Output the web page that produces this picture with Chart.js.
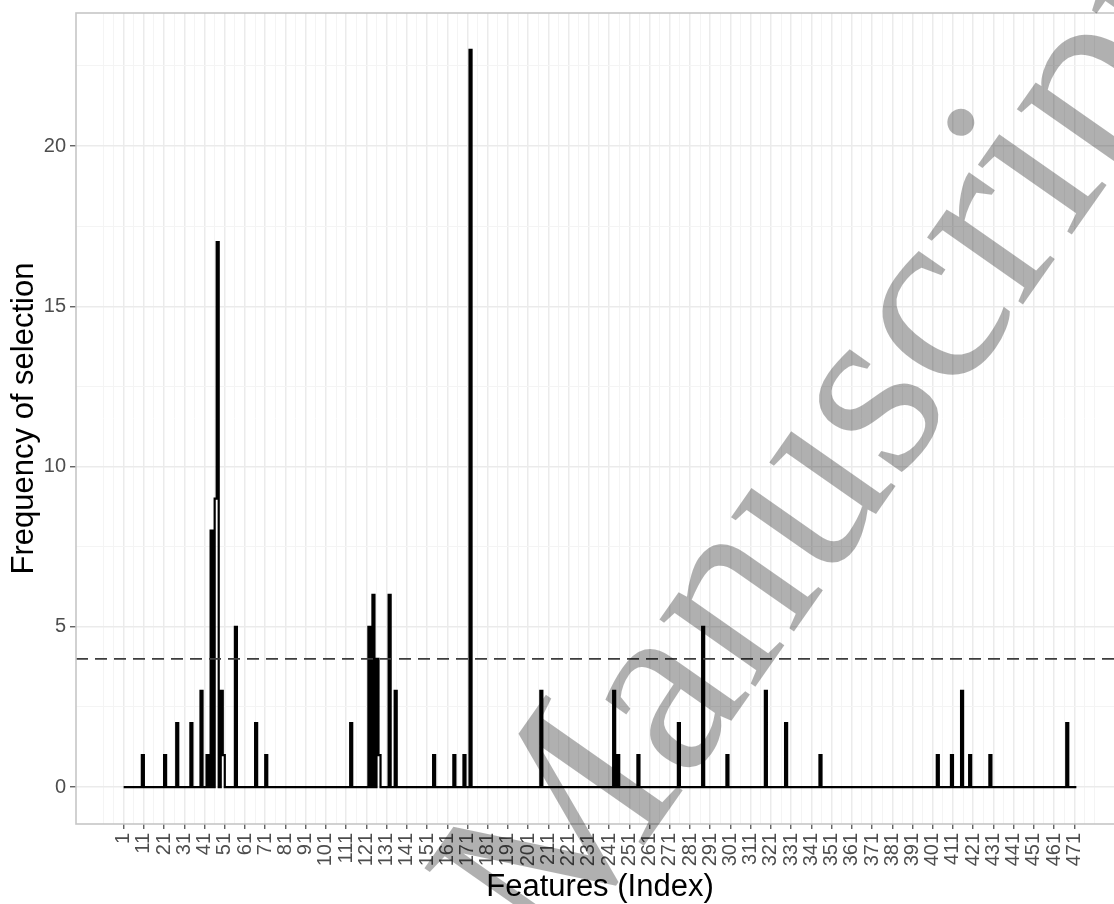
<!DOCTYPE html>
<html>
<head>
<meta charset="utf-8">
<script src="https://cdn.jsdelivr.net/npm/chart.js@4.4.1/dist/chart.umd.min.js"></script>
<style>
  html, body { margin: 0; padding: 0; background: #fff; overflow: hidden; }
  #wrap { position: absolute; left: 0; top: 0; width: 1126px; height: 904px; }
</style>
</head>
<body>
<div id="wrap"><canvas id="c" width="1126" height="904"></canvas></div>
<script>
// Number of candidate features (indexed from 1)
const featureCount = 472;

// Features that were selected at least once, and how often
const spikeIndex = [10, 21, 27, 34, 39, 42, 44, 46, 47, 49, 50, 56, 66, 71,
                    113, 122, 124, 126, 127, 132, 135, 154, 164, 169, 172,
                    207, 243, 245, 255, 275, 287, 299, 318, 328, 345,
                    403, 410, 415, 419, 429, 467];
const spikeFreq  = [1, 1, 2, 2, 3, 1, 8, 9, 17, 3, 1, 5, 2, 1,
                    2, 5, 6, 4, 1, 6, 3, 1, 1, 1, 23,
                    3, 3, 1, 1, 2, 5, 1, 3, 2, 1,
                    1, 1, 3, 1, 1, 2];

// Selection cut-off drawn as a dashed reference line
const threshold = 4;

// Axis breaks and limits
const xBreaks = [1, 11, 21, 31, 41, 51, 61, 71, 81, 91, 101, 111, 121, 131, 141, 151,
                 161, 171, 181, 191, 201, 211, 221, 231, 241, 251, 261, 271, 281, 291,
                 301, 311, 321, 331, 341, 351, 361, 371, 381, 391, 401, 411, 421, 431,
                 441, 451, 461, 471];
const yBreaks = [0, 5, 10, 15, 20];
const xLimits = [-22.55, 495.55];
const yLimits = [-1.15, 24.15];

// One point per feature; features never selected sit at zero
const freqByFeature = new Map(spikeIndex.map((f, i) => [f, spikeFreq[i]]));
const series = [];
for (let f = 1; f <= featureCount; f++) {
  series.push({ x: f, y: freqByFeature.get(f) || 0 });
}

// Grid positions: major breaks plus the midpoints between them
function gridPositions(breaks, lo, hi) {
  const step = breaks[1] - breaks[0];
  const ext = [breaks[0] - step, ...breaks, breaks[breaks.length - 1] + step];
  const out = [];
  for (let i = 0; i < ext.length - 1; i++) out.push(ext[i], (ext[i] + ext[i + 1]) / 2);
  out.push(ext[ext.length - 1]);
  return out.filter(v => v >= lo && v <= hi);
}
const xGrid = gridPositions(xBreaks, xLimits[0], xLimits[1]);
const yGrid = gridPositions(yBreaks, yLimits[0], yLimits[1]);

const SANS = '"Liberation Sans", Arial, Helvetica, sans-serif';
const majorGrid = '#ebebeb', minorGrid = '#f4f4f4';
const tickMark = '#555555', tickText = '#4d4d4d';

function gridStyle(breaks, tickLen) {
  return {
    color: c => breaks.includes(c.tick.value) ? majorGrid : minorGrid,
    lineWidth: c => breaks.includes(c.tick.value) ? 1.5 : 1,
    drawTicks: true,
    tickLength: tickLen,
    tickWidth: 1.3,
    tickColor: c => breaks.includes(c.tick.value) ? tickMark : 'rgba(0,0,0,0)'
  };
}

// Light frame around the plotting panel
const panelBorder = {
  id: 'panelBorder',
  afterDatasetsDraw(chart) {
    const { ctx, chartArea: a } = chart;
    ctx.save();
    ctx.strokeStyle = '#c6c6c6';
    ctx.lineWidth = 1.6;
    ctx.strokeRect(a.left, a.top, a.right - a.left, a.bottom - a.top);
    ctx.restore();
  }
};

// Diagonal stamp across the figure
const stamp = {
  id: 'stamp',
  afterDraw(chart) {
    const ctx = chart.ctx;
    ctx.save();
    ctx.translate(557, 970);
    ctx.rotate(-55 * Math.PI / 180);
    ctx.font = '255px "Liberation Serif", "Times New Roman", serif';
    ctx.fillStyle = 'rgba(0,0,0,0.31)';
    ctx.textBaseline = 'alphabetic';
    ctx.fillText('Manuscript', 0, 0);
    ctx.restore();
  }
};

new Chart(document.getElementById('c'), {
  type: 'scatter',
  data: {
    datasets: [
      {
        label: 'threshold',
        data: [{ x: xLimits[0], y: threshold }, { x: xLimits[1], y: threshold }],
        showLine: true,
        borderColor: '#3d3d3d',
        borderWidth: 1.8,
        borderDash: [12, 7],
        pointRadius: 0,
        order: 0
      },
      {
        label: 'Frequency of selection',
        data: series,
        showLine: true,
        stepped: 'before',
        borderColor: '#000000',
        borderWidth: 2.2,
        borderJoinStyle: 'miter',
        pointRadius: 0,
        order: 1
      }
    ]
  },
  options: {
    responsive: false,
    animation: false,
    devicePixelRatio: 1,
    layout: { padding: { top: 13, right: 2, left: 0, bottom: 0 } },
    plugins: { legend: { display: false }, tooltip: { enabled: false } },
    scales: {
      x: {
        type: 'linear',
        min: xLimits[0],
        max: xLimits[1],
        afterBuildTicks: s => { s.ticks = xGrid.map(v => ({ value: v })); },
        afterFit: s => {
          s.height = 80;
          s.paddingLeft = 0; s.paddingRight = 0; s.paddingTop = 0; s.paddingBottom = 0;
        },
        ticks: {
          autoSkip: false,
          minRotation: 90,
          maxRotation: 90,
          padding: 4,
          color: tickText,
          font: { family: SANS, size: 20 },
          callback: v => xBreaks.includes(v) ? String(v) : ''
        },
        grid: gridStyle(xBreaks, 5),
        border: { display: false },
        title: {
          display: true,
          text: 'Features (Index)',
          color: '#000',
          font: { family: SANS, size: 31, lineHeight: 1 },
          padding: { top: 0, bottom: 1 }
        }
      },
      y: {
        type: 'linear',
        min: yLimits[0],
        max: yLimits[1],
        afterBuildTicks: s => { s.ticks = yGrid.map(v => ({ value: v })); },
        afterFit: s => {
          s.width = 76;
          s.paddingLeft = 0; s.paddingRight = 0; s.paddingTop = 0; s.paddingBottom = 0;
        },
        ticks: {
          autoSkip: false,
          padding: 4,
          color: tickText,
          font: { family: SANS, size: 20 },
          callback: v => yBreaks.includes(v) ? String(v) : ''
        },
        grid: gridStyle(yBreaks, 6),
        border: { display: false },
        title: {
          display: true,
          text: 'Frequency of selection',
          color: '#000',
          font: { family: SANS, size: 31, lineHeight: 1 },
          padding: { top: 9, bottom: 0 }
        }
      }
    }
  },
  plugins: [panelBorder, stamp]
});
</script>
</body>
</html>
